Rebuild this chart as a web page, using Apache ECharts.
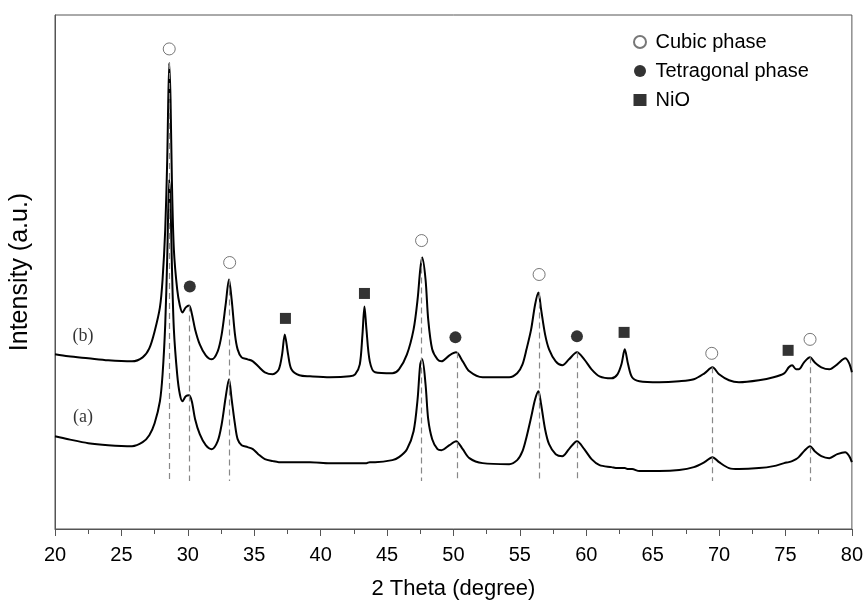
<!DOCTYPE html>
<html>
<head>
<meta charset="utf-8">
<script src="https://cdn.jsdelivr.net/npm/echarts@6/dist/echarts.min.js"></script>
<style>
  html, body { margin: 0; padding: 0; background: #fff; }
  #main { width: 866px; height: 612px; }
</style>
</head>
<body>
<div id="main"></div>
<script>
  // 2 theta (degree), shared by both patterns
  var theta = [20, 21, 22.5, 24, 25.8, 26.6, 27.1, 27.5, 27.9, 28.1, 28.3, 28.45, 28.6, 28.7, 28.8, 28.95, 29.2, 29.4, 29.6, 29.85,
    30.1, 30.3, 30.55, 30.9, 31.35, 31.8, 32.25, 32.55, 32.85, 33.1, 33.3, 33.55, 33.75, 34.05, 34.5, 34.9, 35.3, 35.8, 36.4, 36.85,
    37.1, 37.3, 37.55, 37.8, 38.4, 39.2, 40.7, 42.2, 42.6, 42.95, 43.15, 43.3, 43.45, 43.7, 44.1, 45.4, 45.9, 46.5, 47.0, 47.3,
    47.5, 47.65, 47.9, 48.1, 48.4, 48.8, 49.1, 49.7, 50.2, 50.7, 51.2, 52.2, 54.2, 54.8, 55.2, 55.5, 55.85, 56.15, 56.4, 56.6,
    56.9, 57.2, 57.7, 58.2, 58.7, 59.3, 59.85, 60.4, 61.0, 61.9, 62.35, 62.65, 62.9, 63.15, 63.45, 64.0, 65.5, 67.0, 68.1, 68.9,
    69.5, 70.0, 70.75, 71.5, 73.0, 74.1, 74.9, 75.25, 75.5, 75.8, 76.0, 76.4, 76.85, 77.2, 77.7, 78.3, 78.9, 79.5, 79.8, 80];

  // intensity (a.u.), pattern (b) is offset above (a)
  var intensB = [175, 173, 171, 169, 168, 172, 181, 198, 222, 250, 300, 370, 467, 430, 350, 280, 240, 224, 217, 222,
    224, 216, 200, 185, 174, 170, 178, 195, 225, 250, 230, 195, 180, 172, 170, 168, 163, 157, 155, 160,
    175, 195, 175, 160, 154, 153, 152, 153, 155, 165, 195, 223, 200, 168, 157, 156, 160, 175, 200, 230,
    260, 272, 250, 210, 180, 170, 168, 174, 177, 168, 158, 152, 152, 156, 165, 180, 200, 225, 237, 220,
    195, 180, 168, 164, 170, 177, 170, 160, 153, 151, 155, 165, 180, 165, 152, 148, 147, 148, 150, 156,
    162, 155, 149, 147, 149, 152, 156, 162, 164, 160, 160, 167, 172, 167, 162, 160, 165, 171, 166, 157];

  var intensA = [93, 90, 86, 84, 83, 87, 94, 106, 128, 155, 205, 272, 350, 325, 265, 200, 155, 135, 128, 133,
    134, 128, 110, 95, 84, 80, 88, 105, 132, 150, 130, 105, 90, 84, 82, 80, 75, 70, 68, 67,
    67, 67, 67, 67, 67, 67, 66, 66, 66, 66, 66, 66, 66, 67, 67, 69, 72, 80, 98, 130,
    165, 170, 145, 110, 90, 80, 79, 84, 88, 80, 71, 66, 65, 69, 78, 92, 112, 130, 138, 125,
    100, 85, 75, 73, 80, 88, 80, 70, 64, 62, 61, 61, 61, 60, 60, 58, 58, 59, 62, 67,
    72, 67, 61, 60, 61, 63, 66, 67, 68, 70, 72, 78, 83, 78, 73, 71, 75, 77, 73, 67];

  // phase markers [2theta, height]
  var cubicPts = [[28.6, 481], [33.15, 267], [47.6, 289], [56.45, 255], [69.45, 176], [76.85, 190]];
  var tetraPts = [[30.15, 243], [50.15, 192], [59.3, 193]];
  var nioPts = [[37.35, 211], [43.3, 236], [62.85, 197], [75.2, 179]];

  // dashed reference lines: position and top
  var dashX = [28.6, 30.1, 33.15, 47.6, 50.25, 56.45, 59.35, 69.5, 76.85];
  var dashTop = [467, 224, 250, 272, 177, 237, 177, 162, 172];
  var dashBottom = 48;

  var sampleLabels = [[22.1, 193, '(b)'], [22.1, 112, '(a)']];

  function pairs(xs, ys) {
    return xs.map(function (x, i) { return [x, ys[i]]; });
  }

  var dashData = dashX.map(function (x, i) {
    return [{ coord: [x, dashTop[i]] }, { coord: [x, dashBottom] }];
  });

  var chart = echarts.init(document.getElementById('main'));
  chart.setOption({
    animation: false,
    backgroundColor: '#fff',
    grid: {
      left: 55, right: 13, top: 15, bottom: 83,
      show: true, borderColor: '#555', borderWidth: 1
    },
    legend: {
      orient: 'vertical',
      left: 628,
      top: 27,
      itemGap: 9,
      itemWidth: 13,
      itemHeight: 12,
      textStyle: { fontFamily: 'Liberation Sans', fontSize: 20, color: '#000', padding: [0, 0, 0, 4] },
      data: ['Cubic phase', 'Tetragonal phase', 'NiO']
    },
    xAxis: {
      type: 'value',
      min: 20, max: 80, interval: 5,
      axisLine: { lineStyle: { color: '#555', width: 1 } },
      axisTick: { show: true, length: 7, lineStyle: { color: '#555' } },
      minorTick: { show: true, splitNumber: 2, length: 5, lineStyle: { color: '#555' } },
      splitLine: { show: false },
      axisLabel: { fontFamily: 'Liberation Sans', fontSize: 20, color: '#000', margin: 16 },
      name: '2 Theta (degree)',
      nameLocation: 'middle',
      nameGap: 49,
      nameTextStyle: { fontFamily: 'Liberation Sans', fontSize: 22, color: '#000' }
    },
    yAxis: {
      type: 'value',
      min: 0, max: 515,
      axisLine: { show: true, lineStyle: { color: '#555', width: 1 } },
      axisTick: { show: false },
      axisLabel: { show: false },
      splitLine: { show: false },
      name: 'Intensity (a.u.)',
      nameLocation: 'middle',
      nameGap: 22,
      nameTextStyle: { fontFamily: 'Liberation Sans', fontSize: 25, color: '#000' }
    },
    series: [
      {
        name: 'pattern b',
        type: 'line',
        data: pairs(theta, intensB),
        showSymbol: false,
        smooth: 0.3,
        lineStyle: { color: '#000', width: 2 },
        z: 3,
        markLine: {
          silent: true,
          symbol: 'none',
          label: { show: false },
          lineStyle: { color: '#888', width: 1.2, type: [6, 4] },
          data: dashData
        }
      },
      {
        name: 'pattern a',
        type: 'line',
        data: pairs(theta, intensA),
        showSymbol: false,
        smooth: 0.3,
        lineStyle: { color: '#000', width: 2 },
        z: 3
      },
      {
        name: 'Cubic phase',
        type: 'scatter',
        data: cubicPts,
        symbol: 'circle',
        symbolSize: 12,
        itemStyle: { color: '#fff', borderColor: '#555', borderWidth: 1 },
        z: 5
      },
      {
        name: 'Tetragonal phase',
        type: 'scatter',
        data: tetraPts,
        symbol: 'circle',
        symbolSize: 12,
        itemStyle: { color: '#000' },
        z: 5
      },
      {
        name: 'NiO',
        type: 'scatter',
        data: nioPts,
        symbol: 'rect',
        symbolSize: 11,
        itemStyle: { color: '#000' },
        z: 5
      },
      {
        name: 'labels',
        type: 'scatter',
        symbolSize: 1,
        itemStyle: { color: 'rgba(0,0,0,0)' },
        data: sampleLabels.map(function (d) { return { value: [d[0], d[1]], name: d[2] }; }),
        label: {
          show: true,
          position: 'inside',
          formatter: '{b}',
          fontFamily: 'Liberation Serif',
          fontSize: 18,
          color: '#000'
        }
      }
    ]
  });
</script>
</body>
</html>
